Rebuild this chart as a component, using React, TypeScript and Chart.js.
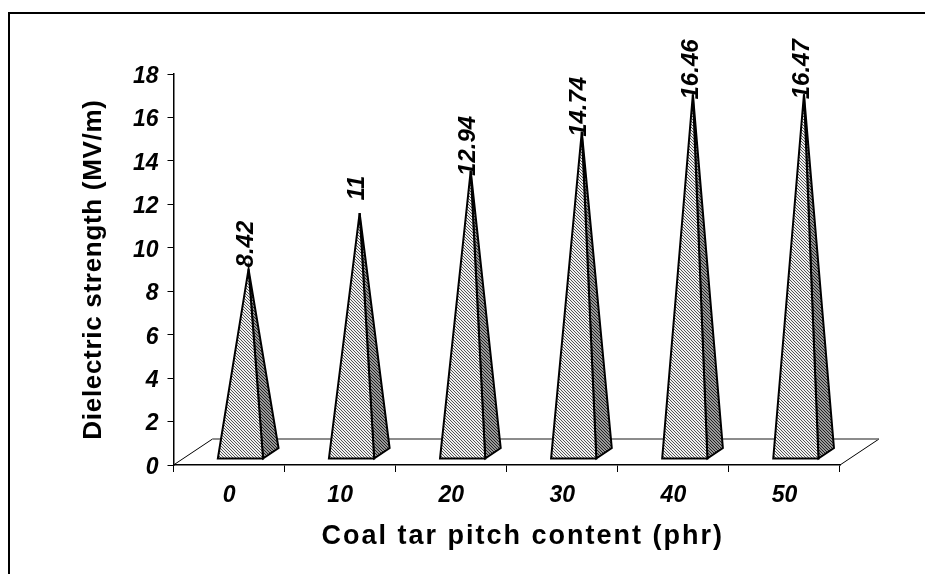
import React, { useEffect, useRef } from "react";
import { Chart, registerables } from "chart.js";

Chart.register(...registerables);

const categories = ["0", "10", "20", "30", "40", "50"];
const strength = [8.42, 11, 12.94, 14.74, 16.46, 16.47];
const valueLabels = ["8.42", "11", "12.94", "14.74", "16.46", "16.47"];
const xTitle = "Coal tar pitch content (phr)";
const yTitle = "Dielectric strength (MV/m)";

const FONT = "'Liberation Sans', Arial, sans-serif";

function hatch(ctx: CanvasRenderingContext2D, bg: string, fg: string) {
  const c = document.createElement("canvas");
  c.width = 3;
  c.height = 3;
  const g = c.getContext("2d")!;
  g.fillStyle = bg;
  g.fillRect(0, 0, 3, 3);
  g.fillStyle = fg;
  g.fillRect(0, 0, 1, 1);
  g.fillRect(1, 1, 1, 1);
  g.fillRect(2, 2, 1, 1);
  return ctx.createPattern(c, "repeat")!;
}

const DEPTH_X = 39;
const DEPTH_Y = 26;

function spacedTitle(scale: any, spacing: string, shiftX: number) {
  if (scale.__spaced) return;
  scale.__spaced = true;
  const original = scale.drawTitle;
  scale.drawTitle = function (...args: any[]) {
    const ctx = scale.ctx;
    ctx.save();
    ctx.letterSpacing = spacing;
    ctx.translate(shiftX, 0);
    original.apply(scale, args);
    ctx.restore();
  };
}

function nudgedLabels(scale: any, dy: number) {
  if (scale.__nudged) return;
  scale.__nudged = true;
  const original = scale.drawLabels;
  scale.drawLabels = function (...args: any[]) {
    const ctx = scale.ctx;
    ctx.save();
    ctx.translate(0, dy);
    original.apply(scale, args);
    ctx.restore();
  };
}

const pyramids = {
  id: "pyramids",
  beforeDatasetsDraw(chart: any) {
    const { ctx, chartArea, scales } = chart;
    const { left, right, bottom } = chartArea;
    ctx.save();
    ctx.strokeStyle = "#000";
    ctx.lineWidth = 1;
    ctx.beginPath();
    ctx.moveTo(left, bottom);
    ctx.lineTo(left + DEPTH_X, bottom - DEPTH_Y);
    ctx.moveTo(right, bottom);
    ctx.lineTo(right + DEPTH_X, bottom - DEPTH_Y);
    ctx.stroke();
    ctx.strokeStyle = "#666";
    ctx.lineWidth = 1.5;
    ctx.beginPath();
    ctx.moveTo(left + DEPTH_X, bottom - DEPTH_Y);
    ctx.lineTo(right + DEPTH_X, bottom - DEPTH_Y);
    ctx.stroke();
    ctx.restore();

    const light = hatch(ctx, "#f0f0f0", "#555");
    const dark = hatch(ctx, "#999", "#222");
    const meta = chart.getDatasetMeta(0);
    ctx.save();
    ctx.lineJoin = "miter";
    ctx.lineWidth = 2;
    ctx.strokeStyle = "#000";
    meta.data.forEach((bar: any, i: number) => {
      const cx = scales.x.getPixelForValue(i);
      const y0 = scales.y.getPixelForValue(0);
      const yTop = scales.y.getPixelForValue(strength[i]);
      const ax = cx + 19.5, ay = yTop - 13;
      const fl = cx - 11.2, fr = cx + 34, fy = y0 - 6.5;
      const bx = fr + 15.5, by = fy - 10.5;
      ctx.fillStyle = dark;
      ctx.beginPath();
      ctx.moveTo(fr, fy);
      ctx.lineTo(bx, by);
      ctx.lineTo(ax, ay);
      ctx.closePath();
      ctx.fill();
      ctx.stroke();
      ctx.fillStyle = light;
      ctx.beginPath();
      ctx.moveTo(fl, fy);
      ctx.lineTo(fr, fy);
      ctx.lineTo(ax, ay);
      ctx.closePath();
      ctx.fill();
      ctx.stroke();
      ctx.save();
      ctx.translate(ax - 2, ay - 25);
      ctx.rotate(-Math.PI / 2);
      ctx.fillStyle = "#000";
      ctx.font = `italic bold 24px ${FONT}`;
      ctx.textAlign = "center";
      ctx.textBaseline = "middle";
      ctx.fillText(valueLabels[i], 0, 0);
      ctx.restore();
    });
    ctx.restore();
  },
  afterDraw(chart: any) {
    const { ctx } = chart;
    ctx.save();
    ctx.strokeStyle = "#000";
    ctx.lineWidth = 2;
    ctx.beginPath();
    ctx.moveTo(9, 574);
    ctx.lineTo(9, 13);
    ctx.lineTo(925, 13);
    ctx.stroke();
    ctx.restore();
  },
};

export default function App() {
  const ref = useRef<HTMLCanvasElement>(null);
  useEffect(() => {
    const chart = new Chart(ref.current!, {
      type: "bar",
      data: {
        labels: categories,
        datasets: [{ data: strength, backgroundColor: "rgba(0,0,0,0)", borderWidth: 0 }],
      },
      plugins: [pyramids],
      options: {
        animation: false,
        responsive: false,
        layout: { padding: { top: 74, right: 85, left: 0, bottom: 0 } },
        plugins: { legend: { display: false }, tooltip: { enabled: false } },
        scales: {
          x: {
            grid: { drawOnChartArea: false, color: "#000", tickLength: 7, lineWidth: 1 },
            border: { color: "#000", width: 1.5 },
            ticks: { color: "#000", maxRotation: 0, padding: 10, font: { family: FONT, size: 23, style: "italic", weight: "bold" } },
            title: { display: true, text: xTitle, color: "#000", padding: { top: 8, bottom: 21 }, font: { family: FONT, size: 27, weight: "bold" } },
            afterFit: (s: any) => { s.height = 109; spacedTitle(s, "2px", 16); },
          },
          y: {
            min: 0,
            max: 18,
            grid: { drawOnChartArea: false, color: "#000", tickLength: 6, lineWidth: 1 },
            border: { color: "#000", width: 1.5 },
            ticks: { stepSize: 2, color: "#000", padding: 9, font: { family: FONT, size: 23, style: "italic", weight: "bold" } },
            title: { display: true, text: yTitle, color: "#000", padding: { top: 78, bottom: 8 }, font: { family: FONT, size: 26, weight: "bold" } },
            afterFit: (s: any) => { s.width = 173.5; spacedTitle(s, "0.7px", 0); nudgedLabels(s, 2.5); },
          },
        },
      },
    });
    return () => chart.destroy();
  }, []);
  return (
    <div style={{ position: "fixed", left: 0, top: 0, width: 925, height: 574, background: "#fff" }}>
      <canvas ref={ref} width={925} height={574} style={{ display: "block" }} />
    </div>
  );
}
